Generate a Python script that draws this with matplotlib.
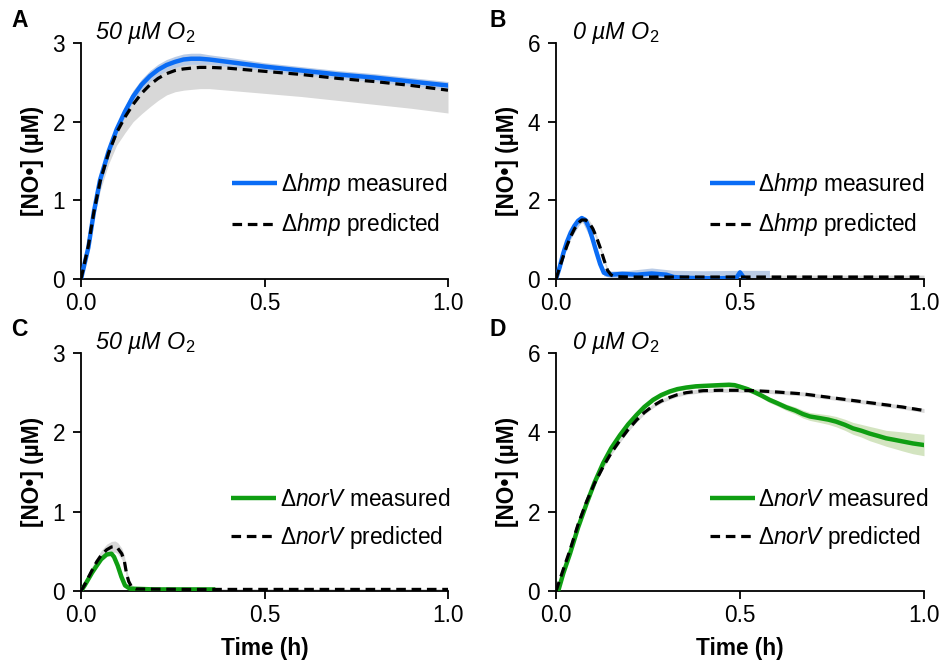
import numpy as np
import matplotlib
matplotlib.use("Agg")
import matplotlib.pyplot as plt

plt.rcParams['font.family'] = ['Liberation Sans', 'DejaVu Sans']
plt.rcParams['mathtext.fontset'] = 'custom'
plt.rcParams['mathtext.rm'] = 'Liberation Sans'
plt.rcParams['mathtext.it'] = 'Liberation Sans:italic'
plt.rcParams['mathtext.bf'] = 'Liberation Sans:bold'

# ---- panel A: hmp mutant, 50 uM O2 ----
t_a = [0.0, 0.02, 0.035, 0.052, 0.075, 0.097, 0.12, 0.142, 0.165, 0.188, 0.21, 0.233,
       0.256, 0.279, 0.30, 0.324, 0.35, 0.4, 0.5, 0.6, 0.7, 0.8, 0.9, 1.0]
a_meas = [0.0, 0.40, 0.85, 1.26, 1.62, 1.90, 2.13, 2.32, 2.47, 2.58, 2.66, 2.72,
          2.76, 2.79, 2.80, 2.80, 2.79, 2.76, 2.70, 2.65, 2.60, 2.56, 2.51, 2.46]
a_meas_err = [0.0, 0.03, 0.04, 0.05, 0.05, 0.06, 0.06, 0.07, 0.07, 0.07, 0.07, 0.07,
              0.07, 0.07, 0.07, 0.07, 0.06, 0.06, 0.05, 0.05, 0.05, 0.05, 0.05, 0.05]
a_pred = [0.0, 0.42, 0.85, 1.24, 1.60, 1.86, 2.06, 2.22, 2.36, 2.47, 2.55, 2.61,
          2.65, 2.67, 2.68, 2.69, 2.69, 2.68, 2.64, 2.60, 2.55, 2.51, 2.46, 2.40]
a_pred_hi = [0.0, 0.46, 0.93, 1.34, 1.70, 1.96, 2.20, 2.40, 2.53, 2.63, 2.70, 2.76,
             2.80, 2.82, 2.83, 2.83, 2.82, 2.80, 2.74, 2.69, 2.64, 2.59, 2.54, 2.48]
a_pred_lo = [0.0, 0.38, 0.76, 1.12, 1.46, 1.70, 1.86, 2.00, 2.10, 2.19, 2.27, 2.34,
             2.38, 2.40, 2.41, 2.42, 2.42, 2.40, 2.36, 2.32, 2.27, 2.22, 2.17, 2.11]

# ---- panel B: hmp mutant, 0 uM O2 ----
t_b_meas = [0.0, 0.01, 0.02, 0.03, 0.04, 0.05, 0.06, 0.07, 0.08, 0.09, 0.10, 0.11,
            0.12, 0.13, 0.14, 0.15, 0.18, 0.22, 0.26, 0.30, 0.32, 0.35, 0.40, 0.45,
            0.49, 0.50, 0.51]
b_meas = [0.0, 0.30, 0.66, 0.95, 1.18, 1.35, 1.48, 1.55, 1.50, 1.30, 1.00, 0.68,
          0.38, 0.16, 0.12, 0.11, 0.13, 0.11, 0.14, 0.11, 0.05, 0.03, 0.02, 0.02,
          0.03, 0.17, 0.04]
t_b_band = [0.0, 0.03, 0.07, 0.10, 0.13, 0.15, 0.20, 0.26, 0.32, 0.40, 0.50, 0.58]
b_band_hi = [0.0, 1.02, 1.62, 1.08, 0.25, 0.20, 0.22, 0.28, 0.22, 0.21, 0.22, 0.22]
b_band_lo = [0.0, 0.88, 1.48, 0.92, 0.08, 0.03, 0.02, 0.02, 0.0, 0.0, 0.0, 0.0]
t_b_pred = [0.0, 0.01, 0.02, 0.03, 0.04, 0.05, 0.06, 0.07, 0.08, 0.09, 0.10, 0.11,
            0.12, 0.13, 0.14, 0.15, 0.16, 0.20, 0.5, 1.0]
b_pred = [0.0, 0.30, 0.58, 0.85, 1.08, 1.27, 1.42, 1.50, 1.50, 1.43, 1.28, 1.06,
          0.80, 0.50, 0.22, 0.10, 0.06, 0.05, 0.05, 0.05]
b_pred_err = [0.0, 0.03, 0.04, 0.05, 0.06, 0.06, 0.07, 0.07, 0.07, 0.07, 0.07, 0.07,
              0.07, 0.07, 0.06, 0.05, 0.05, 0.05, 0.05, 0.05]

# ---- panel C: norV mutant, 50 uM O2 ----
t_c_meas = [0.0, 0.01, 0.02, 0.03, 0.043, 0.055, 0.07, 0.083, 0.09, 0.10, 0.11, 0.12,
            0.133, 0.2, 0.36]
c_meas = [0.0, 0.07, 0.15, 0.23, 0.32, 0.40, 0.46, 0.47, 0.43, 0.32, 0.18, 0.07,
          0.03, 0.02, 0.02]
t_c_pred = [0.0, 0.01, 0.02, 0.03, 0.043, 0.055, 0.07, 0.083, 0.093, 0.10, 0.111, 0.118,
            0.124, 0.13, 0.138, 0.15, 0.3, 1.0]
c_pred = [0.0, 0.08, 0.17, 0.26, 0.37, 0.45, 0.52, 0.555, 0.56, 0.54, 0.47, 0.38,
          0.22, 0.12, 0.05, 0.025, 0.02, 0.02]
c_pred_err = [0.0, 0.03, 0.04, 0.05, 0.05, 0.06, 0.07, 0.07, 0.07, 0.07, 0.07, 0.07,
              0.06, 0.05, 0.03, 0.01, 0.01, 0.01]

# ---- panel D: norV mutant, 0 uM O2 ----
t_d_meas = [0.006, 0.02, 0.038, 0.06, 0.083, 0.105, 0.128, 0.15, 0.174, 0.196, 0.219, 0.24,
            0.264, 0.286, 0.309, 0.33, 0.354, 0.38, 0.40, 0.445, 0.47, 0.485, 0.50, 0.52,
            0.54, 0.56, 0.58, 0.6, 0.626, 0.65, 0.671, 0.69, 0.716, 0.74, 0.761, 0.785,
            0.807, 0.83, 0.852, 0.875, 0.897, 0.92, 0.942, 0.97, 1.0]
d_meas = [0.0, 0.45, 0.94, 1.60, 2.20, 2.74, 3.22, 3.60, 3.93, 4.20, 4.44, 4.64,
          4.82, 4.94, 5.03, 5.09, 5.13, 5.16, 5.17, 5.19, 5.20, 5.19, 5.15, 5.09,
          5.01, 4.92, 4.82, 4.74, 4.63, 4.55, 4.46, 4.40, 4.36, 4.32, 4.27, 4.19,
          4.10, 4.04, 3.97, 3.91, 3.85, 3.81, 3.77, 3.72, 3.68]
d_meas_err = [0.0, 0.03, 0.03, 0.03, 0.03, 0.03, 0.03, 0.03, 0.03, 0.04, 0.04, 0.04,
              0.05, 0.05, 0.05, 0.05, 0.05, 0.05, 0.05, 0.05, 0.06, 0.06, 0.06, 0.06,
              0.06, 0.06, 0.07, 0.07, 0.08, 0.09, 0.10, 0.10, 0.11, 0.12, 0.13, 0.14,
              0.15, 0.16, 0.18, 0.19, 0.20, 0.22, 0.24, 0.26, 0.27]
t_d_pred = [0.0, 0.02, 0.038, 0.06, 0.083, 0.105, 0.128, 0.15, 0.174, 0.196, 0.219, 0.24,
            0.264, 0.286, 0.309, 0.33, 0.354, 0.38, 0.40, 0.445, 0.49, 0.535, 0.58, 0.67,
            0.76, 0.85, 0.94, 1.0]
d_pred = [0.0, 0.55, 1.03, 1.68, 2.25, 2.72, 3.13, 3.48, 3.80, 4.07, 4.31, 4.50,
          4.67, 4.79, 4.88, 4.95, 5.00, 5.03, 5.05, 5.06, 5.06, 5.05, 5.03, 4.97,
          4.86, 4.75, 4.64, 4.55]
d_pred_err = 0.05

BLUE = '#0a6cf5'
BLUE_BAND = '#b9cbe6'
GREEN = '#0f9e12'
GREEN_BAND = '#d3e4c0'
GREY_BAND = '#d8d8d8'

FS = 16.3

fig = plt.figure(figsize=(9.43, 6.65), dpi=100)
W, H = 943.0, 665.0


def make_ax(left, top, right, bottom):
    return fig.add_axes([left / W, 1 - bottom / H, (right - left) / W, (bottom - top) / H])


axA = make_ax(81, 43, 448, 279)
axB = make_ax(556, 43, 924, 279)
axC = make_ax(81, 353, 448, 591)
axD = make_ax(556, 353, 924, 591)


def style(ax, ymax, ystep, xlabel):
    ax.set_xlim(0, 1.0)
    ax.set_ylim(0, ymax)
    ax.set_xticks([0, 0.5, 1.0])
    ax.set_xticklabels(['0.0', '0.5', '1.0'])
    ax.set_yticks(np.arange(0, ymax + 0.01, ystep))
    for s in ['top', 'right']:
        ax.spines[s].set_visible(False)
    for s in ['left', 'bottom']:
        ax.spines[s].set_linewidth(1.3)
    ax.tick_params(direction='out', length=5.5, width=1.3, labelsize=FS)
    ax.tick_params(axis='y', pad=6)
    ax.tick_params(axis='x', pad=4)
    ax.set_ylabel('[NO•] (µM)', fontsize=FS, fontweight='bold', labelpad=6)
    if xlabel:
        ax.set_xlabel('Time (h)', fontsize=FS, fontweight='bold', labelpad=7)


def legend(ax, gene, color, x, y):
    h1, = ax.plot([], [], color=color, lw=3.2, solid_capstyle='butt')
    h2, = ax.plot([], [], color='black', lw=2.3, dashes=(3, 1.8))
    ax.legend([h1, h2],
              [r'$\Delta\mathit{%s}$ measured' % gene, r'$\Delta\mathit{%s}$ predicted' % gene],
              loc='center left', bbox_to_anchor=(x, y), frameon=False,
              fontsize=FS, handlelength=2.0, handletextpad=0.15, labelspacing=0.6,
              borderaxespad=0, borderpad=0)


# A
axA.fill_between(t_a, a_pred_lo, a_pred_hi, color=GREY_BAND, lw=0, zorder=1)
axA.fill_between(t_a, np.array(a_meas) - a_meas_err, np.array(a_meas) + a_meas_err,
                 color=BLUE_BAND, lw=0, zorder=2)
axA.plot(t_a, a_meas, color=BLUE, lw=3.2, zorder=3)
axA.plot(t_a, a_pred, color='black', lw=2.3, dashes=(3, 1.8), zorder=4)
style(axA, 3, 1, False)
legend(axA, 'hmp', BLUE, 0.411, 0.315)

# B
axB.fill_between(t_b_pred, np.array(b_pred) - b_pred_err, np.array(b_pred) + b_pred_err,
                 color=GREY_BAND, lw=0, zorder=1)
axB.fill_between(t_b_band, b_band_lo, b_band_hi, color=BLUE_BAND, lw=0, zorder=2)
axB.plot(t_b_meas, b_meas, color=BLUE, lw=3.2, zorder=3)
axB.plot(t_b_pred, b_pred, color='black', lw=2.3, dashes=(3, 1.8), zorder=4)
style(axB, 6, 2, False)
legend(axB, 'hmp', BLUE, 0.418, 0.315)

# C
axC.fill_between(t_c_pred, np.array(c_pred) - c_pred_err, np.array(c_pred) + c_pred_err,
                 color=GREY_BAND, lw=0, zorder=1)
axC.plot(t_c_meas, c_meas, color=GREEN, lw=3.2, zorder=3)
axC.plot(t_c_pred, c_pred, color='black', lw=2.3, dashes=(3, 1.8), zorder=4)
style(axC, 3, 1, True)
legend(axC, 'norV', GREEN, 0.409, 0.30)

# D
axD.fill_between(t_d_pred, np.array(d_pred) - d_pred_err, np.array(d_pred) + d_pred_err,
                 color=GREY_BAND, lw=0, zorder=1)
axD.fill_between(t_d_meas, np.array(d_meas) - d_meas_err, np.array(d_meas) + d_meas_err,
                 color=GREEN_BAND, lw=0, zorder=2)
axD.plot(t_d_meas, d_meas, color=GREEN, lw=3.2, zorder=3)
axD.plot(t_d_pred, d_pred, color='black', lw=2.3, dashes=(3, 1.8), zorder=4)
style(axD, 6, 2, True)
legend(axD, 'norV', GREEN, 0.418, 0.30)

# condition labels (italic, upright subscript)
for ax, txt, x in [(axA, '50 µM O$_2$', 0.038), (axB, '0 µM O$_2$', 0.043),
                   (axC, '50 µM O$_2$', 0.038), (axD, '0 µM O$_2$', 0.043)]:
    ax.text(x, 1.017, txt, transform=ax.transAxes, fontsize=FS + 0.5,
            style='italic', ha='left', va='baseline')

# panel letters
for letter, x, y in [('A', 11, 9), ('B', 489, 9), ('C', 11, 318), ('D', 489, 318)]:
    fig.text(x / W, 1 - y / H, letter, fontsize=16.5, fontweight='bold', ha='left', va='top')

fig.savefig('out.png', dpi=100)
